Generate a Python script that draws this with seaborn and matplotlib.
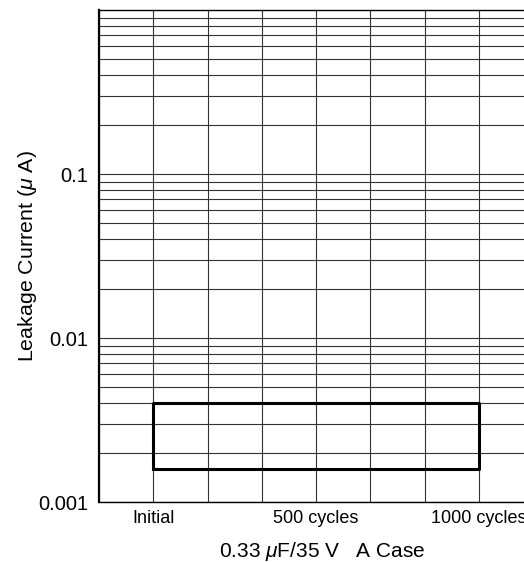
import numpy as np
import pandas as pd
import matplotlib
matplotlib.use('Agg')
import matplotlib.pyplot as plt
import matplotlib.ticker as mticker
import seaborn as sns

# test stages on the x axis (position in grid units)
stages = ['Initial', '500 cycles', '1000 cycles']
stage_pos = [0, 3, 6]

# leakage current spec window (uA)
box_x = [0, 6]
leak_low = 0.0016
leak_high = 0.004

sns.set_style('white')
plt.rcParams['font.family'] = ['Liberation Sans', 'DejaVu Sans']
plt.rcParams['mathtext.fontset'] = 'custom'
plt.rcParams['mathtext.it'] = 'Liberation Sans:italic'
plt.rcParams['mathtext.rm'] = 'Liberation Sans'
plt.rcParams['text.color'] = 'black'
plt.rcParams['axes.labelcolor'] = 'black'
plt.rcParams['xtick.color'] = 'black'
plt.rcParams['ytick.color'] = 'black'

fig = plt.figure(figsize=(5.24, 5.62), dpi=100)
ax = fig.add_axes([99 / 524, 1 - 502 / 562, 1 - 99 / 524, (502 - 10) / 562])

# closed outline of the window
outline = pd.DataFrame({
    'x': [box_x[0], box_x[1], box_x[1], box_x[0], box_x[0]],
    'y': [leak_low, leak_low, leak_high, leak_high, leak_low],
})
sns.lineplot(data=outline, x='x', y='y', estimator=None, sort=False,
             color='black', linewidth=2.2, ax=ax, zorder=5)

ax.set_yscale('log')
ax.set_ylim(0.001, 1.0)
ax.set_xlim(-1, 6.83)

ax.set_xticks(stage_pos)
ax.set_xticklabels(stages, fontsize=13)
ax.xaxis.set_minor_locator(mticker.MultipleLocator(1))
ax.set_yticks([0.001, 0.01, 0.1])
ax.set_yticklabels(['0.001', '0.01', '0.1'], fontsize=14.5)
ax.yaxis.set_minor_locator(mticker.LogLocator(base=10, subs=np.arange(2, 10)))
ax.yaxis.set_minor_formatter(mticker.NullFormatter())
ax.tick_params(which='both', length=0)
ax.tick_params(axis='y', pad=8)
ax.tick_params(axis='x', pad=6)

ax.grid(which='both', axis='both', color='#333333', linewidth=0.8)
for s in ['left', 'bottom', 'top']:
    ax.spines[s].set_color('black')
    ax.spines[s].set_linewidth(1.0)
ax.spines['left'].set_linewidth(1.6)
ax.spines['right'].set_visible(False)

ax.set_ylabel('Leakage Current ($\\mathit{\\mu}$ A)', fontsize=15.4)
ax.yaxis.set_label_coords(-60 / 425, 0.5)
ax.set_xlabel('0.33 $\\mathit{\\mu}$F/35 V   A Case', fontsize=15)
ax.xaxis.set_label_coords(0.525, -0.078)

fig.savefig('out.png', dpi=100)
